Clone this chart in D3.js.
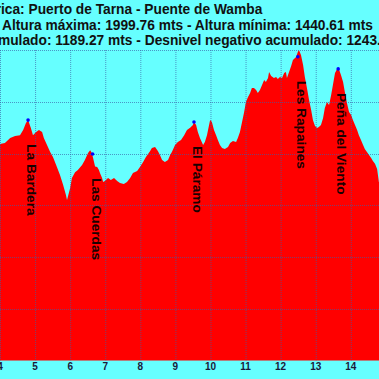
<!DOCTYPE html>
<html>
<head>
<meta charset="utf-8">
<script src="https://cdn.jsdelivr.net/npm/d3@7"></script>
<style>
	body { margin: 0; background: #66ffff; }
	svg { display: block; font-family: "Liberation Sans", Arial, sans-serif; }
</style>
</head>
<body>
<div id="chart"></div>
<script>
const km = [4.00, 4.14, 4.29, 4.43, 4.57, 4.66, 4.74, 4.80, 4.88, 4.94, 5.03, 5.11, 5.20, 5.25, 5.34, 5.43, 5.51, 5.60, 5.71, 5.80, 5.88, 5.91, 6.00, 6.05, 6.14, 6.22, 6.34, 6.42, 6.51, 6.57, 6.62, 6.71, 6.77, 6.82, 6.85, 6.91, 6.94, 6.99, 7.08, 7.16, 7.25, 7.34, 7.42, 7.53, 7.62, 7.71, 7.79, 7.91, 7.99, 8.08, 8.16, 8.28, 8.33, 8.42, 8.50, 8.56, 8.62, 8.70, 8.79, 8.85, 8.90, 8.99, 9.07, 9.16, 9.25, 9.33, 9.42, 9.50, 9.53, 9.59, 9.64, 9.70, 9.79, 9.84, 9.90, 9.96, 9.99, 10.04, 10.10, 10.16, 10.21, 10.27, 10.33, 10.41, 10.50, 10.56, 10.64, 10.73, 10.78, 10.84, 10.90, 10.96, 11.01, 11.07, 11.13, 11.18, 11.24, 11.30, 11.35, 11.41, 11.47, 11.53, 11.58, 11.64, 11.67, 11.73, 11.81, 11.87, 11.92, 11.98, 12.04, 12.10, 12.15, 12.18, 12.24, 12.30, 12.35, 12.44, 12.49, 12.52, 12.58, 12.64, 12.69, 12.75, 12.81, 12.87, 12.92, 12.98, 13.04, 13.09, 13.15, 13.21, 13.26, 13.32, 13.38, 13.44, 13.49, 13.55, 13.61, 13.66, 13.72, 13.78, 13.83, 13.89, 13.95, 14.01, 14.06, 14.12, 14.18, 14.23, 14.29, 14.35, 14.40, 14.46, 14.52, 14.58, 14.63, 14.69, 14.75, 14.80, 14.85]
const elevation = [1637, 1641, 1660, 1668, 1671, 1691, 1718, 1729, 1699, 1671, 1683, 1691, 1683, 1660, 1633, 1606, 1586, 1556, 1517, 1478, 1440, 1420, 1467, 1505, 1528, 1536, 1556, 1575, 1602, 1613, 1602, 1550, 1548, 1536, 1525, 1505, 1490, 1494, 1505, 1498, 1505, 1494, 1486, 1482, 1490, 1505, 1525, 1532, 1548, 1567, 1586, 1610, 1621, 1625, 1610, 1594, 1575, 1567, 1575, 1594, 1606, 1633, 1644, 1652, 1671, 1691, 1700, 1710, 1722, 1710, 1683, 1660, 1633, 1644, 1671, 1710, 1729, 1722, 1691, 1671, 1652, 1633, 1621, 1617, 1625, 1641, 1648, 1644, 1660, 1683, 1722, 1760, 1799, 1818, 1834, 1853, 1853, 1845, 1834, 1845, 1865, 1884, 1876, 1892, 1915, 1900, 1892, 1896, 1888, 1896, 1892, 1911, 1915, 1892, 1915, 1938, 1961, 1973, 1992, 1999.76, 1981, 1942, 1896, 1853, 1807, 1768, 1729, 1706, 1699, 1702, 1710, 1737, 1776, 1799, 1787, 1826, 1865, 1911, 1927, 1927, 1903, 1876, 1838, 1795, 1760, 1749, 1729, 1710, 1691, 1671, 1652, 1633, 1617, 1606, 1594, 1583, 1571, 1560, 1540, 1490, 1470]

const places = ["La Bardera", "Las Cuerdas", "El Páramo", "Les Rapaines", "Peña del Viento"]
const placeKm = [4.80, 6.64, 9.53, 12.49, 13.64]
const placeElev = [1729, 1598, 1722, 1974, 1927]

const kmTicks = [4, 5, 6, 7, 8, 9, 10, 11, 12, 13, 14]
const elevTicks = [800, 1000, 1200, 1400, 1600, 1800, 2000]

const titleLines = [
	"Gráfica altimétrica: Puerto de Tarna - Puente de Wamba",
	"Altura máxima: 1999.76 mts - Altura mínima: 1440.61 mts",
	"Desnivel positivo acumulado: 1189.27 mts - Desnivel negativo acumulado: 1243.12 mts",
]

const width = 379
const height = 379

const svg = d3.select("#chart").append("svg").attr("width", width).attr("height", height)

svg.append("rect").attr("width", width).attr("height", height).attr("fill", "#66ffff")

const x = d3.scaleLinear().domain([4, 15]).range([0, 35.08 * 11])
const y = d3.scaleLinear().domain([800, 2000]).range([360.5, 50])

const profile = km.map((k, i) => ({ km: k, elev: elevation[i] }))

const area = d3.area()
	.x(d => x(d.km))
	.y0(y(800))
	.y1(d => y(d.elev))

svg.append("path")
	.datum(profile)
	.attr("d", area)
	.attr("fill", "#ff0000")

// grid over the fill
svg.append("g")
	.selectAll("line")
	.data(kmTicks)
	.enter()
	.append("line")
	.attr("x1", d => x(d) + 0.5)
	.attr("x2", d => x(d) + 0.5)
	.attr("y1", y(2000))
	.attr("y2", y(800))
	.attr("stroke", "#3a5fa8")
	.attr("stroke-opacity", 0.65)
	.attr("stroke-dasharray", "1,1")

svg.append("g")
	.selectAll("line")
	.data(elevTicks.slice(1))
	.enter()
	.append("line")
	.attr("x1", 0)
	.attr("x2", width)
	.attr("y1", d => Math.round(y(d)) + 0.5)
	.attr("y2", d => Math.round(y(d)) + 0.5)
	.attr("stroke", "#3a5fa8")
	.attr("stroke-opacity", 0.65)
	.attr("stroke-dasharray", "1,1")

svg.append("g")
	.selectAll("text")
	.data(kmTicks)
	.enter()
	.append("text")
	.attr("x", d => x(d))
	.attr("y", 370)
	.attr("text-anchor", "middle")
	.attr("font-size", "10px")
	.attr("font-weight", "bold")
	.attr("fill", "#1a1a3a")
	.text(d => d)

// waypoints
svg.append("g")
	.selectAll("circle")
	.data(places)
	.enter()
	.append("circle")
	.attr("cx", (d, i) => x(placeKm[i]))
	.attr("cy", (d, i) => y(placeElev[i]))
	.attr("r", 1.8)
	.attr("fill", "#0000ff")

svg.append("g")
	.selectAll("text")
	.data(places)
	.enter()
	.append("text")
	.attr("transform", (d, i) => `translate(${x(placeKm[i]) - 1}, ${y(placeElev[i]) + 24}) rotate(90)`)
	.attr("font-size", "13.7px")
	.attr("font-weight", "bold")
	.attr("fill", "#1a0000")
	.text(d => d)

// title lines, the chart is cropped so they run off the edges
const title = svg.append("g")
	.attr("font-weight", "bold")
	.attr("font-size", "13.75px")
	.attr("fill", "#111")

const line1 = title.append("text")
	.attr("y", 14)
	.text(titleLines[0])

title.append("text")
	.attr("x", 2)
	.attr("y", 30)
	.text(titleLines[1])

const line3 = title.append("text")
	.attr("y", 45)
	.text(titleLines[2])

const probe1 = title.append("text").text("Gráfica altimétr")
line1.attr("x", 1 - probe1.node().getComputedTextLength())
probe1.remove()

const probe3 = title.append("text").text("Desnivel positivo acu")
line3.attr("x", -2 - probe3.node().getComputedTextLength())
probe3.remove()
</script>
</body>
</html>
